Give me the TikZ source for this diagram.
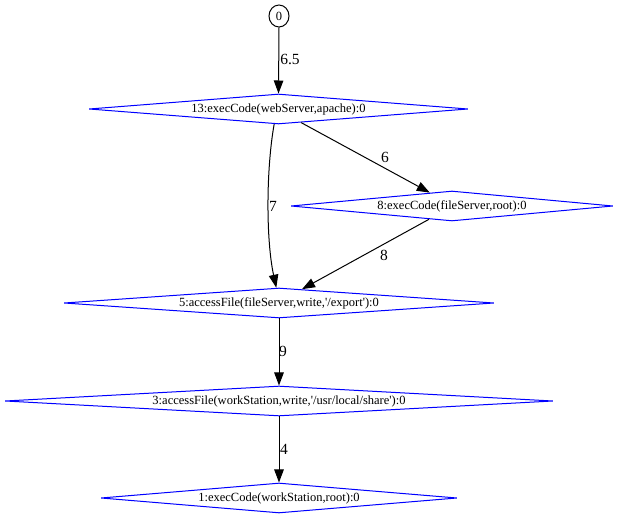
\documentclass[tikz,border=0pt]{standalone}
\usepackage{fontspec}
\setmainfont{Liberation Serif}
\usetikzlibrary{shapes.geometric,arrows.meta}
\begin{document}
\begin{tikzpicture}[x=1pt,y=-1pt,
  dia/.style={diamond, draw=blue, line width=1pt, inner sep=0pt,
    minimum width=#1, minimum height=30pt},
  nlab/.style={font=\fontsize{12.5}{14}\selectfont, inner sep=0pt},
  circ/.style={ellipse, draw=black, line width=1pt, inner sep=0pt,
    minimum width=20pt, minimum height=22pt, font=\fontsize{12.5}{14}\selectfont},
  edge/.style={draw=black, line width=1pt, -{Triangle[length=13pt,width=9.5pt]}},
  elab/.style={font=\fontsize{15.5}{17}\selectfont, inner sep=0pt}
]
\useasboundingbox (0,0) rectangle (619,518);
\node[circ] (n0) at (279,16) {0};
\node[dia=379pt, label={[nlab]center:{13:execCode(webServer,apache):0}}] (n13) at (278.5,109) {};
\node[dia=322pt, label={[nlab]center:{8:execCode(fileServer,root):0}}] (n8) at (452,206) {};
\node[dia=430pt, label={[nlab]center:{5:accessFile(fileServer,write,\textquotesingle/export\textquotesingle):0}}] (n5) at (279,303) {};
\node[dia=548pt, label={[nlab]center:{3:accessFile(workStation,write,\textquotesingle/usr/local/share\textquotesingle):0}}] (n3) at (279,401) {};
\node[dia=356pt, label={[nlab]center:{1:execCode(workStation,root):0}}] (n1) at (279,498) {};

\draw[edge] (n0.south) -- (n13.north);
\node[elab] (l65) at (290,59) {6.5};
\draw[edge] (n13.-31) -- (n8.149.4);
\node[elab] (l6) at (385,157) {6};
\draw[edge] (n13.254) .. controls (266,170) and (266,240) .. (n5.100);
\node[elab] (l7) at (273,206) {7};
\draw[edge] (n8.210) -- (n5.31);
\node[elab] (l8) at (384,255) {8};
\draw[edge] (n5.south) -- (n3.north);
\node[elab] (l9) at (283,351) {9};
\draw[edge] (n3.south) -- (n1.north);
\node[elab] (l4) at (284,449) {4};
\end{tikzpicture}
\end{document}
